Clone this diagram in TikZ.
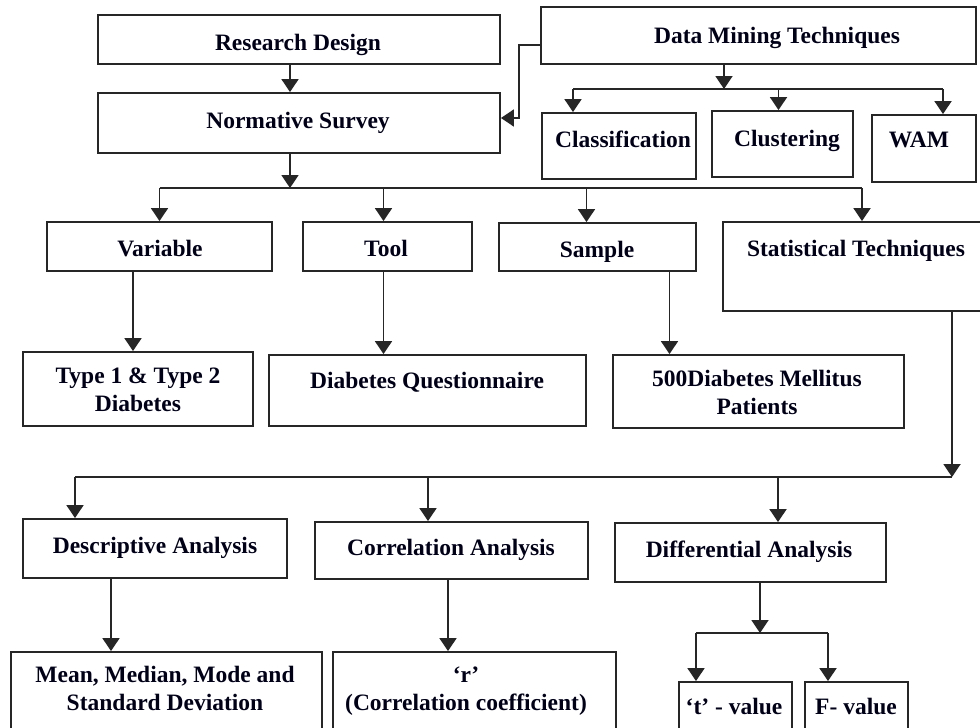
\documentclass[tikz,border=0pt]{standalone}
\usepackage{fontspec}
\setmainfont{Liberation Serif}
\usetikzlibrary{arrows.meta,fit}
\begin{document}
\begin{tikzpicture}[x=1pt,y=-1pt,
  box/.style={draw=black!85,line width=1.9pt,inner sep=0pt,rectangle},
  txt/.style={font=\fontsize{23.5}{28}\selectfont\bfseries,text=black!90!blue,inner sep=0pt,align=center,anchor=base},
  line/.style={draw=black!85,line width=1.9pt},
  arr/.style={line,-{Triangle[length=13pt,width=17pt]}}]
\clip (0,0) rectangle (980,728);
\fill[white] (0,0) rectangle (980,728);
% boxes
\node[box,fit={(98,15) (500,64)}] (rd) {};
\node[box,fit={(98,93) (500,153)}] (ns) {};
\node[box,fit={(541,7) (976,64)}] (dm) {};
\node[box,fit={(542,113) (696,179)}] (cls) {};
\node[box,fit={(712,111) (853,177)}] (clu) {};
\node[box,fit={(872,115) (976,182)}] (wam) {};
\node[box,fit={(47,222) (272,271)}] (var) {};
\node[box,fit={(303,222) (472,271)}] (tool) {};
\node[box,fit={(499,223) (696,271)}] (samp) {};
\node[box,fit={(723,222) (995,311)}] (stat) {};
\node[box,fit={(23,352) (253,426)}] (t12) {};
\node[box,fit={(269,355) (586,426)}] (dq) {};
\node[box,fit={(613,355) (904,428)}] (pat) {};
\node[box,fit={(23,519) (287,578)}] (desc) {};
\node[box,fit={(315,522) (588,579)}] (corr) {};
\node[box,fit={(615,523) (886,582)}] (diff) {};
\node[box,fit={(11,652) (322,745)}] (mean) {};
\node[box,fit={(333,652) (616,745)}] (rr) {};
\node[box,fit={(679,682) (792,745)}] (tv) {};
\node[box,fit={(805,682) (908,745)}] (fv) {};
% texts
\node[txt] (rd-t) at (298,50) {Research Design};
\node[txt] (ns-t) at (298,128) {Normative Survey};
\node[txt] (dm-t) at (777,43) {Data Mining Techniques};
\node[txt] (cls-t) at (623,147) {Classification};
\node[txt] (clu-t) at (787,146) {Clustering};
\node[txt] (wam-t) at (919,147) {WAM};
\node[txt] (var-t) at (160,256) {Variable};
\node[txt] (tool-t) at (386,256) {Tool};
\node[txt] (samp-t) at (597,257) {Sample};
\node[txt] (stat-t) at (856,256) {Statistical Techniques};
\node[txt] (t12-t) at (138,411) {Type 1 \& Type 2\\Diabetes};
\node[txt] (dq-t) at (427,388) {Diabetes Questionnaire};
\node[txt] (pat-t) at (757,414) {500Diabetes Mellitus\\Patients};
\node[txt] (desc-t) at (155,553) {Descriptive Analysis};
\node[txt] (corr-t) at (451,555) {Correlation Analysis};
\node[txt] (diff-t) at (749,557) {Differential Analysis};
\node[txt] (mean-t) at (165,710) {Mean, Median, Mode and\\Standard Deviation};
\node[txt] (rr-t) at (466,710) {‘r’\\(Correlation coefficient)};
\node[txt] (tv-t) at (734,714) {‘t’ - value};
\node[txt] (fv-t) at (856,714) {F- value};
% connectors
\draw[arr] ([xshift=-9pt]rd.south) -- ([xshift=-9pt]ns.north);
\coordinate (nsb) at (290,188);
\draw[arr] ([xshift=-9pt]ns.south) -- (nsb);
\draw[line] (var.north |- nsb) -- ([xshift=3pt]stat.north |- nsb);
\draw[arr] (var.north |- nsb) -- (var.north);
\draw[arr] ([xshift=-4pt]tool.north |- nsb) -- ([xshift=-4pt]tool.north);
\draw[arr] ([xshift=-11pt]samp.north |- nsb) -- ([xshift=-11pt]samp.north);
\draw[arr] ([xshift=3pt]stat.north |- nsb) -- ([xshift=3pt]stat.north);
% data mining
\coordinate (dmb) at (724,89);
\draw[arr] (dm.south -| dmb) -- (dmb);
\draw[line] ([xshift=-46pt]cls.north |- dmb) -- ([xshift=19pt]wam.north |- dmb);
\draw[arr] ([xshift=-46pt]cls.north |- dmb) -- ([xshift=-46pt]cls.north);
\draw[arr] ([xshift=-4pt]clu.north |- dmb) -- ([xshift=-4pt]clu.north);
\draw[arr] ([xshift=19pt]wam.north |- dmb) -- ([xshift=19pt]wam.north);
\draw[arr] ([yshift=-9.5pt]dm.west) -- ++(-21,0) |- ([yshift=5pt]ns.east);
% second row
\draw[arr] ([xshift=-5pt]t12.north |- var.south) -- ([xshift=-5pt]t12.north);
\draw[arr] ([xshift=-4pt]tool.south) -- ([xshift=-4pt]tool.south |- dq.north);
\draw[arr] ([xshift=72pt]samp.south) -- ([xshift=72pt]samp.south |- pat.north);
% statistical
\coordinate (sb) at (952,477);
\draw[arr] (stat.south -| sb) -- (sb);
\draw[line] (sb) -- ([xshift=-80pt]desc.north |- sb);
\draw[arr] ([xshift=-80pt]desc.north |- sb) -- ([xshift=-80pt]desc.north);
\draw[arr] ([xshift=-23.5pt]corr.north |- sb) -- ([xshift=-23.5pt]corr.north);
\draw[arr] ([xshift=27.5pt]diff.north |- sb) -- ([xshift=27.5pt]diff.north);
% bottom
\draw[arr] ([xshift=-44pt]desc.south) -- ([xshift=-44pt]desc.south |- mean.north);
\draw[arr] ([xshift=-3.5pt]corr.south) -- ([xshift=-3.5pt]corr.south |- rr.north);
\coordinate (db) at (760,633);
\draw[arr] (diff.south -| db) -- (db);
\draw[line] ([xshift=-39.5pt]tv.north |- db) -- ([xshift=-28.5pt]fv.north |- db);
\draw[arr] ([xshift=-39.5pt]tv.north |- db) -- ([xshift=-39.5pt]tv.north);
\draw[arr] ([xshift=-28.5pt]fv.north |- db) -- ([xshift=-28.5pt]fv.north);
\end{tikzpicture}
\end{document}
